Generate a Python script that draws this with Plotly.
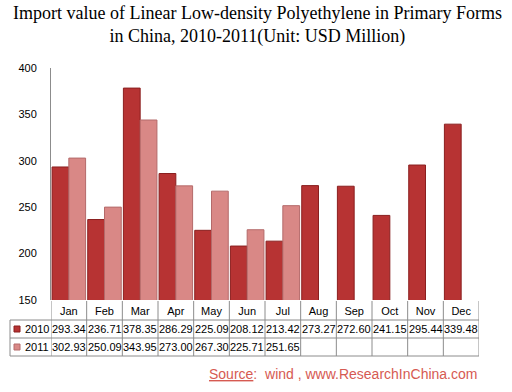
import plotly.graph_objects as go

months = ["Jan", "Feb", "Mar", "Apr", "May", "Jun", "Jul", "Aug", "Sep", "Oct", "Nov", "Dec"]
v2010 = [293.34, 236.71, 378.35, 286.29, 225.09, 208.12, 213.42, 273.27, 272.60, 241.15, 295.44, 339.48]
v2011 = [302.93, 250.09, 343.95, 273.00, 267.30, 225.71, 251.65]
series_names = ["2010", "2011"]
y_ticks = [150, 200, 250, 300, 350, 400]

c2010 = "#b73333"
c2010_line = "#8a1f1f"
c2011 = "#d98886"
c2011_line = "#b46a6a"

W, H = 512, 392
L, R, T, B = 51, 33, 68, 92
pw, ph = W - L - R, H - T - B

def py(p):
    return (H - B - p) / ph

def px(p):
    return (p - L) / pw

fig = go.Figure()
fig.add_bar(x=months, y=v2010, name=series_names[0], marker=dict(color=c2010, line=dict(color=c2010_line, width=1)))
fig.add_bar(x=months[:len(v2011)], y=v2011, name=series_names[1], marker=dict(color=c2011, line=dict(color=c2011_line, width=1)))

shapes = []
line_style = dict(color="#8c8c8c", width=1)
for p in (320, 338, 356):
    shapes.append(dict(type="line", xref="paper", yref="paper", x0=px(10), x1=1, y0=py(p), y1=py(p), line=line_style))
for i in range(len(months) + 1):
    shapes.append(dict(type="line", xref="x", yref="paper", x0=i - 0.5, x1=i - 0.5, y0=py(301), y1=py(356), line=line_style))
shapes.append(dict(type="line", xref="paper", yref="paper", x0=px(10), x1=px(10), y0=py(320), y1=py(356), line=line_style))
for k, (p, col) in enumerate(((329, c2010), (347, c2011))):
    shapes.append(dict(type="rect", xref="paper", yref="paper", x0=px(14), x1=px(20), y0=py(p + 3), y1=py(p - 3),
                       fillcolor=col, line=dict(color=[c2010_line, c2011_line][k], width=1)))

annotations = []
tfont = dict(family="Liberation Sans", size=11, color="#000000")
for k, (vals, p) in enumerate(((v2010, 329), (v2011, 347))):
    annotations.append(dict(xref="paper", yref="paper", x=px(23), y=py(p), text=series_names[k], showarrow=False,
                            xanchor="left", yanchor="middle", font=tfont))
    for i, v in enumerate(vals):
        annotations.append(dict(xref="x", yref="paper", x=months[i], y=py(p), text=f"{v:.2f}", showarrow=False,
                                xanchor="center", yanchor="middle", font=tfont))

annotations.append(dict(xref="paper", yref="paper", x=px(257), y=py(25), showarrow=False,
                        text="Import value of Linear Low-density Polyethylene in Primary Forms<br>in China, 2010-2011(Unit: USD Million)",
                        font=dict(family="Liberation Serif", size=18, color="#000"), xanchor="center", yanchor="middle"))
annotations.append(dict(xref="paper", yref="paper", x=1, y=py(374), showarrow=False, xanchor="right", yanchor="middle",
                        text="<u>Source</u>:  wind , www.ResearchInChina.com",
                        font=dict(family="Liberation Sans", size=14, color="#d65a52")))

fig.update_layout(
    width=W, height=H,
    margin=dict(l=L, r=R, t=T, b=B, pad=0, autoexpand=False),
    paper_bgcolor="white", plot_bgcolor="white",
    barmode="group", bargap=0.06, bargroupgap=0.0,
    showlegend=False,
    shapes=shapes, annotations=annotations,
    xaxis=dict(showgrid=False, showline=False, zeroline=False, ticks="", tickfont=tfont, ticklabelstandoff=3,
               range=[-0.5, len(months) - 0.5]),
    yaxis=dict(range=[150, 400], tickvals=y_ticks, showgrid=False, zeroline=False, showline=True,
               linecolor="#8c8c8c", linewidth=1, ticks="", tickfont=tfont, ticklabelstandoff=11),
)
fig.write_html("out.html", config={"displayModeBar": False}, post_script="document.body.style.margin='0';")
